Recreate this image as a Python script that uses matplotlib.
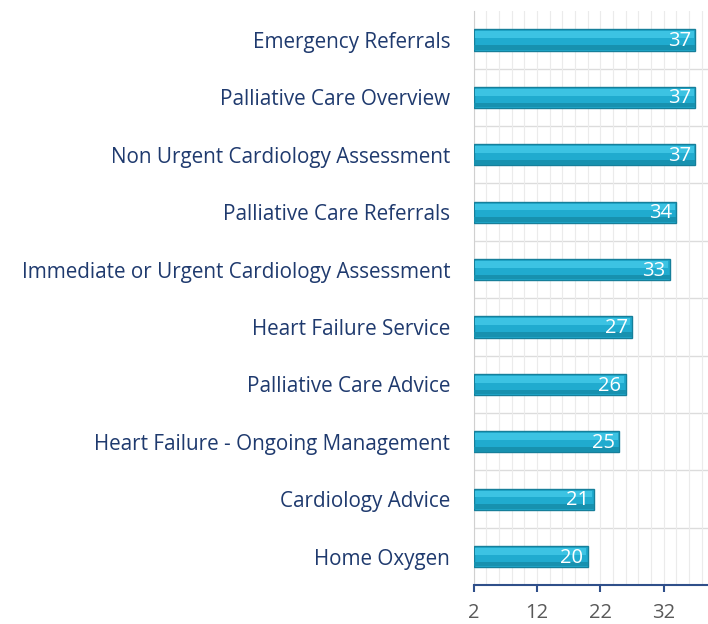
import matplotlib.pyplot as plt
from matplotlib.ticker import MultipleLocator

categories = ['Emergency Referrals', 'Palliative Care Overview',
              'Non Urgent Cardiology Assessment', 'Palliative Care Referrals',
              'Immediate or Urgent Cardiology Assessment', 'Heart Failure Service',
              'Palliative Care Advice', 'Heart Failure - Ongoing Management',
              'Cardiology Advice', 'Home Oxygen']
values = [37, 37, 37, 34, 33, 27, 26, 25, 21, 20]
xticks = [2, 12, 22, 32]

fig = plt.figure(figsize=(7.08, 6.24), dpi=100)
ax = fig.add_axes([0.669, 0.062, 0.331, 0.92])

n = len(categories)
ys = list(range(n))[::-1]
base = 2
widths = [v - base for v in values]

# main bar + soft highlight strips for a tubular look
ax.barh(ys, widths, left=base, height=0.37, color='#20abcf',
        edgecolor='#167f9a', linewidth=1, zorder=3)
ax.barh([y + 0.09 for y in ys], [w - 0.5 for w in widths], left=base + 0.25,
        height=0.12, color='#3cc3e3', linewidth=0, zorder=4)
ax.barh([y - 0.13 for y in ys], widths, left=base, height=0.08,
        color='#1791af', linewidth=0, zorder=4)

for y, v in zip(ys, values):
    ax.text(v - 0.7, y - 0.02, str(v), ha='right', va='center', color='white',
            fontsize=14.5, family='Open Sans', zorder=5)

ax.set_xlim(2, 39)
ax.set_ylim(-0.5, n - 0.5)
ax.set_xticks(xticks)
ax.xaxis.set_minor_locator(MultipleLocator(2))
ax.grid(which='minor', axis='x', color='#ebebeb', linewidth=0.8, zorder=0)
ax.grid(which='major', axis='x', color='#ebebeb', linewidth=0.8, zorder=0)
for b in [y + 0.5 for y in range(n - 1)]:
    ax.axhline(b, color='#dcdcdc', linewidth=1, zorder=1)

ax.set_yticks(ys)
ax.set_yticklabels(categories, fontsize=14.9, color='#1f3a6e', family='Open Sans')
ax.tick_params(axis='y', length=0, pad=17)
ax.tick_params(axis='x', which='major', length=5, color='#2f4f8a', width=1.5,
               labelsize=14.5, labelcolor='#595959', pad=8)
ax.tick_params(axis='x', which='minor', length=0)
for lab in ax.get_xticklabels():
    lab.set_family('Open Sans')

for s in ['top', 'right']:
    ax.spines[s].set_visible(False)
ax.spines['left'].set_color('#d0d0d0')
ax.spines['bottom'].set_color('#2f4f8a')
ax.spines['bottom'].set_linewidth(1.5)

fig.savefig('out.png', dpi=100)
